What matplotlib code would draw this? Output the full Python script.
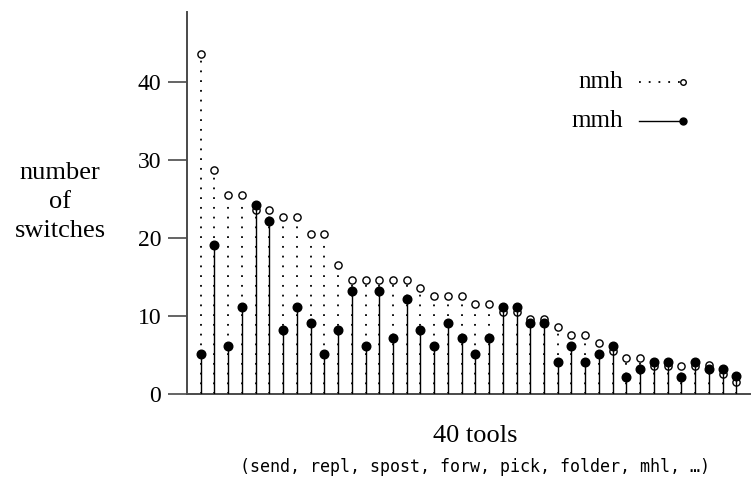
import numpy as np
import matplotlib
matplotlib.use("Agg")
import matplotlib.pyplot as plt
from matplotlib.lines import Line2D

# switches per tool, tools sorted by nmh count
nmh = [43.6, 28.7, 25.6, 25.6, 23.6, 23.6, 22.7, 22.7, 20.6, 20.6,
       16.6, 14.6, 14.6, 14.6, 14.6, 14.6, 13.6, 12.6, 12.6, 12.6,
       11.6, 11.6, 10.6, 10.6, 9.6, 9.6, 8.6, 7.6, 7.6, 6.6,
       5.6, 4.6, 4.6, 3.6, 3.6, 3.6, 3.6, 3.7, 2.6, 1.6]
mmh = [5.2, 19.2, 6.2, 11.2, 24.2, 22.2, 8.2, 11.2, 9.2, 5.2,
       8.2, 13.2, 6.2, 13.2, 7.2, 12.2, 8.2, 6.2, 9.2, 7.2,
       5.2, 7.2, 11.2, 11.2, 9.2, 9.2, 4.2, 6.2, 4.2, 5.2,
       6.2, 2.2, 3.2, 4.2, 4.2, 2.2, 4.2, 3.2, 3.2, 2.3]
yticks = [0, 10, 20, 30, 40]
tools = np.arange(1, len(nmh) + 1)

SERIF = "Liberation Serif"
DOTS = (0, (1, 4.4))
AX = "#4a4a4a"

fig = plt.figure(figsize=(7.53, 4.79), dpi=100)
ax = fig.add_axes([187/753, 1 - 394.3/479, (750-187)/753, (394.3-12)/479])

ax.vlines(tools, 0, nmh, colors="black", linestyles=[DOTS], lw=1.3, zorder=1)
ax.plot(tools, nmh, "o", ms=5.2, mfc="white", mec="black", mew=1.0, zorder=2)
ax.vlines(tools, 0, mmh, colors="black", lw=1.0, zorder=3)
ax.plot(tools, mmh, "o", ms=6.2, mfc="black", mec="black", zorder=4)

ax.set_xlim(0, 41)
ax.set_ylim(0, 49)
for s in ("top", "right"):
    ax.spines[s].set_visible(False)
for s in ("left", "bottom"):
    ax.spines[s].set_color(AX)
    ax.spines[s].set_linewidth(1.4)
ax.set_xticks([])
ax.set_yticks(yticks)
ax.set_yticklabels([str(t) for t in yticks], family=SERIF, fontsize=17)
ax.tick_params(axis="y", length=13.5, width=1.2, color=AX, pad=5)

fig.text(60/753, 1 - 202/479, "number\nof\nswitches", family=SERIF, fontsize=19,
         ha="center", va="center", multialignment="center", linespacing=1.4)
fig.text(475/753, 1 - 436/479, "40 tools", family=SERIF, fontsize=19,
         ha="center", va="center")
fig.text(475/753, 1 - 467/479, "(send, repl, spost, forw, pick, folder, mhl, \u2026)",
         family="DejaVu Sans Mono", fontsize=12, ha="center", va="center")

# legend: label left, sample right
for yl, lab, ls, mfc, ms in [(82, "nmh", DOTS, "white", 4.0), (121, "mmh", "-", "black", 5.0)]:
    yf = 1 - yl/479
    fig.text(623/753, yf, lab, family=SERIF, fontsize=18, ha="right", va="center")
    fig.add_artist(Line2D([639/753, 681/753], [yf, yf], color="black", lw=1.0 if ls == "-" else 1.3,
                          linestyle=ls, transform=fig.transFigure))
    fig.add_artist(Line2D([683/753], [yf], marker="o", ms=ms, mfc=mfc, mec="black", mew=1.0,
                          transform=fig.transFigure))

fig.savefig("out.png", dpi=100)
